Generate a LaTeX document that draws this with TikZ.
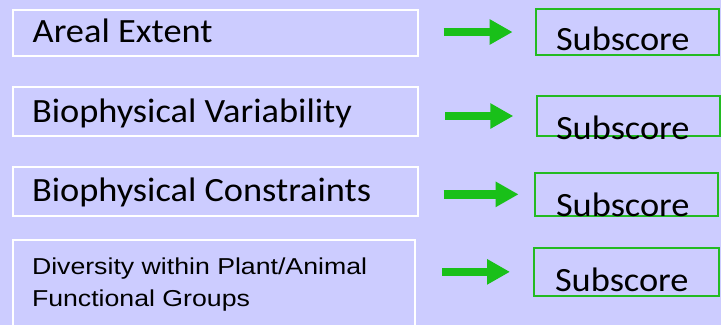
\documentclass[tikz,border=0pt]{standalone}
\usepackage{fontspec}
\usepackage{graphicx}
\setmainfont{Carlito}
\newfontfamily\arialf{Liberation Sans}
\usetikzlibrary{arrows.meta}
\definecolor{bgc}{HTML}{CCCCFF}
\definecolor{grn}{HTML}{19C019}
\definecolor{gbox}{HTML}{22BB22}
\newcommand{\calitxt}[1]{\scalebox{1.07}[1]{\fontsize{34}{40}\selectfont #1}}
\tikzset{
  lbox/.style={draw=white, line width=2pt, inner sep=0pt, outer sep=0pt, anchor=north west, minimum width=405pt},
  sbox/.style={draw=gbox, line width=2pt, inner sep=0pt, outer sep=0pt, anchor=north west, minimum width=183pt},
  txt/.style={inner sep=0pt, outer sep=0pt, anchor=base west, text=black},
  arr/.style={draw=grn, line width=8.5pt, line cap=butt, -{Triangle[length=23pt,width=24pt]}}
}
\begin{document}
\begin{tikzpicture}[x=1pt,y=-1pt]
\fill[bgc] (0,0) rectangle (721,325);
\useasboundingbox (0,0) rectangle (721,325);
\clip (0,0) rectangle (721,325);
% left boxes
\node[lbox, minimum height=46pt] (b1) at (13,10) {};
\node[lbox, minimum height=49pt] (b2) at (13,87) {};
\node[lbox, minimum height=49pt] (b3) at (13,167) {};
\node[lbox, minimum height=90pt, minimum width=402pt] (b4) at (13,240) {};
% right boxes
\node[sbox, minimum height=46pt] (s1) at (536,9) {};
\node[sbox, minimum height=40pt] (s2) at (536.7,96) {};
\node[sbox, minimum height=42.7pt] (s3) at (535,173) {};
\node[sbox, minimum height=48.3pt, minimum width=185pt] (s4) at (534,247.7) {};
% texts
\node[txt] (t1) at (32.7,42.3) {\calitxt{Areal Extent}};
\node[txt] (t2) at (32,122.7) {\calitxt{Biophysical Variability}};
\node[txt] (t3) at (32,201) {\calitxt{Biophysical Constraints}};
\node[txt] (t4) at (32,274.7) {\scalebox{1.16}[1]{\arialf\fontsize{23}{31.3}\selectfont\begin{tabular}[t]{@{}l@{}}Diversity within Plant/Animal\\Functional Groups\end{tabular}}};
\node[txt] (u1) at (556,50) {\calitxt{Subscore}};
\node[txt] (u2) at (556,139) {\calitxt{Subscore}};
\node[txt] (u3) at (556,216.5) {\calitxt{Subscore}};
\node[txt] (u4) at (555,291) {\calitxt{Subscore}};
% arrows
\draw[arr, shorten <=25.7pt, shorten >=23.4pt] (b1.east |- s1.west) -- (s1.west);
\draw[arr, shorten <=27pt, shorten >=23.4pt] (b2.east |- s2.west) -- (s2.west);
\draw[arr, shorten <=25.7pt, shorten >=16.4pt] (b3.east |- s3.west) -- (s3.west);
\draw[arr, shorten <=27pt, shorten >=24pt] (b4.east |- s4.west) -- (s4.west);
\end{tikzpicture}
\end{document}
